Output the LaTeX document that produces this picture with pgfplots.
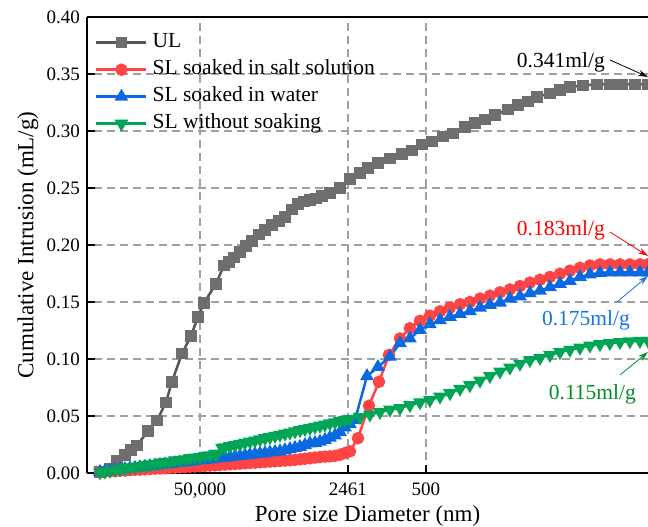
\documentclass[border=0pt]{standalone}
\usepackage{fontspec}
\setmainfont{Liberation Serif}
\usepackage{pgfplots}
\pgfplotsset{compat=1.18}
\usetikzlibrary{arrows.meta}
\definecolor{ulline}{RGB}{85,85,85}
\definecolor{ulmark}{RGB}{110,110,110}
\definecolor{cred}{RGB}{255,68,68}
\definecolor{cblue}{RGB}{10,105,225}
\definecolor{cgreen}{RGB}{0,166,85}
\definecolor{tred}{RGB}{255,0,0}
\definecolor{tblue}{RGB}{20,115,230}
\definecolor{tgreen}{RGB}{0,140,40}
\definecolor{gridc}{RGB}{160,160,160}

% x = log10(pore diameter / nm), y = cumulative intrusion (mL/g)
\pgfplotstableread{
x y
5.584 0.001
5.496 0.004
5.434 0.011
5.363 0.016
5.310 0.020
5.257 0.024
5.159 0.037
5.080 0.046
5.000 0.062
4.947 0.080
4.858 0.105
4.779 0.120
4.717 0.137
4.664 0.149
4.558 0.166
4.487 0.182
4.442 0.185
4.398 0.189
4.345 0.194
4.292 0.199
4.239 0.2035
4.177 0.209
4.124 0.213
4.062 0.2175
4.000 0.221
3.947 0.2245
3.885 0.231
3.832 0.236
3.779 0.238
3.726 0.2395
3.673 0.241
3.619 0.243
3.549 0.2456
3.460 0.250
3.372 0.258
3.283 0.263
3.212 0.2675
3.124 0.272
3.018 0.276
2.911 0.280
2.823 0.283
2.734 0.288
2.646 0.291
2.549 0.295
2.460 0.298
2.354 0.3035
2.265 0.307
2.177 0.310
2.088 0.314
1.973 0.319
1.885 0.323
1.796 0.326
1.717 0.330
1.602 0.333
1.513 0.336
1.425 0.3385
1.310 0.340
1.186 0.341
1.071 0.341
0.965 0.341
0.850 0.341
0.734 0.341
}\ULdata

\pgfplotstableread{
x y
5.584 0.001
5.540 0.0012
5.496 0.0015
5.451 0.0018
5.407 0.002
5.363 0.0022
5.319 0.0025
5.274 0.0028
5.230 0.003
5.186 0.0033
5.142 0.0035
5.097 0.0038
5.053 0.004
5.009 0.0042
4.965 0.0045
4.920 0.0047
4.876 0.005
4.832 0.0052
4.788 0.0055
4.743 0.0057
4.699 0.006
4.655 0.0062
4.611 0.0065
4.566 0.0067
4.522 0.007
4.478 0.0073
4.434 0.0076
4.389 0.0079
4.345 0.0082
4.301 0.0085
4.257 0.0088
4.212 0.0091
4.168 0.0094
4.124 0.0097
4.080 0.010
4.035 0.0103
3.991 0.0106
3.947 0.0109
3.903 0.0112
3.858 0.0115
3.814 0.012
3.770 0.0125
3.726 0.013
3.681 0.0135
3.637 0.014
3.593 0.0143
3.549 0.0146
3.504 0.015
3.460 0.016
3.416 0.0175
3.372 0.019
3.301 0.0305
3.204 0.059
3.115 0.080
3.027 0.1035
2.929 0.118
2.841 0.127
2.752 0.1335
2.664 0.138
2.575 0.1418
2.487 0.145
2.398 0.148
2.310 0.150
2.221 0.153
2.133 0.1555
2.044 0.1585
1.956 0.161
1.867 0.164
1.779 0.167
1.690 0.1695
1.602 0.172
1.513 0.1748
1.425 0.1775
1.336 0.180
1.248 0.182
1.159 0.183
1.071 0.183
0.982 0.183
0.894 0.183
0.805 0.183
0.734 0.183
}\SaltData

\pgfplotstableread{
x y
5.584 0.001
5.540 0.0015
5.496 0.002
5.451 0.0025
5.407 0.003
5.363 0.0035
5.319 0.004
5.274 0.0045
5.230 0.005
5.186 0.0055
5.142 0.006
5.097 0.0065
5.053 0.007
5.009 0.0075
4.965 0.008
4.920 0.0085
4.876 0.009
4.832 0.0095
4.788 0.010
4.743 0.0105
4.699 0.011
4.655 0.0115
4.611 0.012
4.566 0.0125
4.522 0.013
4.478 0.0135
4.434 0.014
4.389 0.0145
4.345 0.015
4.301 0.0155
4.257 0.016
4.212 0.0165
4.168 0.017
4.124 0.0175
4.080 0.018
4.035 0.0185
3.991 0.019
3.947 0.020
3.903 0.021
3.858 0.022
3.814 0.023
3.770 0.0245
3.726 0.026
3.681 0.0265
3.637 0.0275
3.593 0.029
3.549 0.031
3.504 0.033
3.460 0.036
3.416 0.040
3.372 0.043
3.327 0.0465
3.221 0.085
3.124 0.093
3.018 0.102
2.929 0.114
2.841 0.118
2.752 0.1255
2.664 0.1305
2.575 0.134
2.487 0.137
2.398 0.1395
2.310 0.142
2.221 0.145
2.133 0.1475
2.044 0.1495
1.956 0.153
1.867 0.155
1.779 0.1577
1.690 0.160
1.602 0.163
1.513 0.166
1.425 0.1685
1.336 0.172
1.248 0.1742
1.159 0.1755
1.071 0.176
0.982 0.176
0.894 0.176
0.805 0.176
0.734 0.176
}\WaterData

\pgfplotstableread{
x y
5.584 0.0005
5.540 0.0012
5.496 0.002
5.451 0.0028
5.407 0.0035
5.363 0.004
5.319 0.005
5.274 0.0055
5.230 0.006
5.186 0.0068
5.142 0.0075
5.097 0.008
5.053 0.009
5.009 0.0095
4.965 0.010
4.920 0.011
4.876 0.0115
4.832 0.012
4.788 0.013
4.743 0.0135
4.699 0.014
4.655 0.015
4.611 0.0155
4.566 0.0165
4.548 0.017
4.504 0.022
4.478 0.0225
4.434 0.0235
4.389 0.0245
4.345 0.0255
4.301 0.0265
4.257 0.0275
4.212 0.0285
4.168 0.0295
4.124 0.0305
4.080 0.0315
4.035 0.0325
3.991 0.0335
3.947 0.0345
3.903 0.0355
3.858 0.0365
3.814 0.0375
3.770 0.0385
3.726 0.0395
3.681 0.0405
3.637 0.0415
3.593 0.0425
3.549 0.0435
3.504 0.0445
3.460 0.0455
3.416 0.0465
3.372 0.0475
3.283 0.049
3.195 0.0512
3.106 0.0535
3.018 0.0555
2.929 0.057
2.841 0.0595
2.752 0.062
2.664 0.064
2.575 0.067
2.487 0.070
2.398 0.0738
2.310 0.077
2.221 0.081
2.133 0.085
2.044 0.089
1.956 0.0925
1.867 0.0958
1.779 0.099
1.690 0.101
1.602 0.1035
1.513 0.106
1.425 0.108
1.336 0.110
1.248 0.1118
1.159 0.113
1.071 0.114
0.982 0.1148
0.894 0.1155
0.805 0.1158
0.734 0.116
}\DryData

\begin{document}
\begin{tikzpicture}
\begin{axis}[
  width=561pt, height=456pt, scale only axis,
  xmin=0.734, xmax=5.699, ymin=0, ymax=0.40,
  x dir=reverse,
  enlargelimits=false,
  clip=false,
  axis x line*=box, axis y line*=left,
  xtick pos=bottom, ytick pos=left,
  tick align=inside,
  axis line style={line width=2pt, black},
  major tick style={line width=1.8pt, black},
  major tick length=8pt,
  xtick={4.699,3.391,2.699},
  xticklabels={{50,000},2461,500},
  ytick={0,0.05,...,0.401},
  /pgf/number format/assume math mode=true,
  ticklabel style={font=\fontsize{19}{22}\selectfont},
  xticklabel style={yshift=-6pt},
  yticklabel style={xshift=-3.5pt, /pgf/number format/.cd, fixed, fixed zerofill, precision=2},
  grid=major,
  major grid style={dash pattern=on 8pt off 5pt, line width=1.5pt, gridc},
  xlabel={Pore size Diameter (nm)},
  ylabel={Cumulative Intrusion (mL/g)},
  every axis x label/.style={at={(axis description cs:0.5,0)}, yshift=-43pt, anchor=center, font=\fontsize{23}{26}\selectfont},
  every axis y label/.style={at={(axis description cs:0,0.5)}, xshift=-59pt, rotate=90, anchor=center, font=\fontsize{23}{26}\selectfont},
  legend style={at={(axis description cs:0,1)}, anchor=north west, xshift=8pt, yshift=-14pt,
    draw=none, fill=none, inner sep=0pt, row sep=4pt,
    font=\fontsize{21.5}{24}\selectfont,
    nodes={inner sep=2pt, text height=14pt, text depth=5pt}},
  legend cell align=left,
  legend style={/tikz/every odd column/.append style={column sep=3pt}},
  legend image code/.code={\draw[mark repeat=2,mark phase=2,#1] plot coordinates {(0pt,0pt) (25pt,0pt) (50pt,0pt)};},
]
\addplot[color=ulline, line width=2.5pt, mark=square*, mark size=4.5pt, mark options={solid, fill=ulmark, draw=ulmark}] table[x=x,y=y] {\ULdata};
\addlegendentry{UL}
\addplot[color=cred, line width=2.5pt, mark=*, mark size=5pt, mark options={solid, fill=cred, draw=cred}] table[x=x,y=y] {\SaltData};
\addlegendentry{SL soaked in salt solution}
\addplot[color=cblue, line width=2.5pt, mark=triangle*, mark size=5.5pt, mark options={solid, fill=cblue, draw=cblue}] table[x=x,y=y] {\WaterData};
\addlegendentry{SL soaked in water}
\addplot[color=cgreen, line width=2.5pt, mark=triangle*, mark size=5.5pt, mark options={solid, rotate=180, fill=cgreen, draw=cgreen}] table[x=x,y=y] {\DryData};
\addlegendentry{SL without soaking}

\node[anchor=east, inner sep=0pt, font=\fontsize{21.5}{24}\selectfont] at (axis cs:1.115,0.3605) {0.341ml/g};
\draw[-{Stealth[length=10pt,width=6pt]}, line width=0.8pt, black] (axis cs:1.071,0.3623) -- (axis cs:0.734,0.3474);

\node[anchor=east, inner sep=0pt, text=tred, font=\fontsize{21.5}{24}\selectfont] at (axis cs:1.115,0.2132) {0.183ml/g};
\draw[-{Stealth[length=10pt,width=6pt]}, line width=0.8pt, tred] (axis cs:1.071,0.2114) -- (axis cs:0.734,0.1904);

\node[anchor=center, inner sep=0pt, text=tblue, font=\fontsize{21.5}{24}\selectfont] at (axis cs:1.283,0.1342) {0.175ml/g};
\draw[-{Stealth[length=10pt,width=6pt]}, line width=0.8pt, tblue] (axis cs:1.009,0.150) -- (axis cs:0.734,0.1728);

\node[anchor=center, inner sep=0pt, text=tgreen, font=\fontsize{21.5}{24}\selectfont] at (axis cs:1.226,0.0693) {0.115ml/g};
\draw[-{Stealth[length=10pt,width=6pt]}, line width=0.8pt, tgreen] (axis cs:0.982,0.086) -- (axis cs:0.734,0.1061);
\end{axis}
\pgfresetboundingbox
\path[use as bounding box] (-87pt,-54pt) rectangle (561pt,473pt);
\end{tikzpicture}
\end{document}
